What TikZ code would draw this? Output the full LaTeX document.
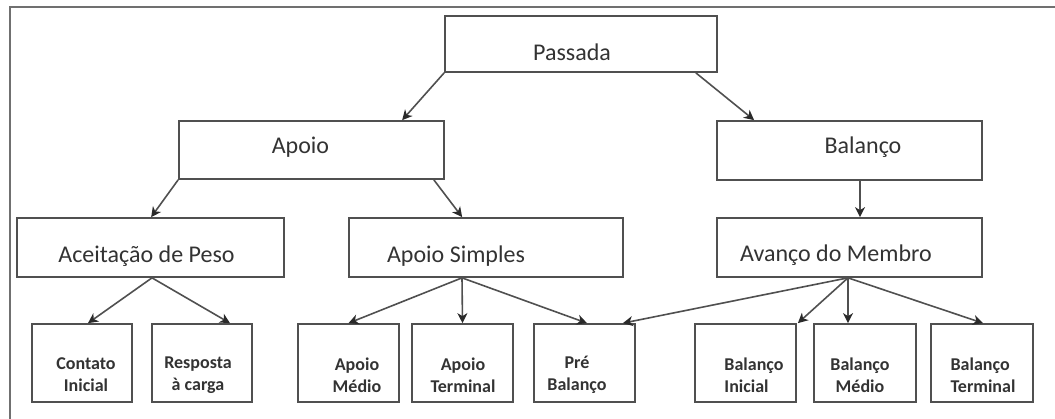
\documentclass[tikz,border=0pt]{standalone}
\usepackage{fontspec}
\setmainfont{Carlito}
\usetikzlibrary{arrows.meta}
\definecolor{boxline}{HTML}{505050}
\definecolor{txt}{HTML}{333333}
\definecolor{tipcol}{HTML}{2A2A2A}
\definecolor{frameline}{HTML}{707070}
\tikzset{
  box/.style={draw=boxline, line width=1.7pt, rectangle, inner sep=0pt},
  bigtext/.style={text=txt, font=\fontsize{24}{29}\selectfont, inner sep=0pt, anchor=base},
  smalltext/.style={text=txt, font=\fontsize{18}{22}\selectfont\bfseries, inner sep=0pt, align=center, anchor=center},
  conn/.style={draw=boxline, line width=1.6pt, -{Stealth[length=10pt,width=10pt,inset=3pt,color=tipcol]}}
}
\begin{document}
\begin{tikzpicture}[x=1pt,y=-1pt]
\useasboundingbox (0,0) rectangle (1055,419);
\draw[frameline, line width=1.5pt] (10,419) -- (10,7) -- (1055,7);
% level 1
\node[box, minimum width=272pt, minimum height=56pt] (passada) at (581,44) {};
\node[bigtext] (passada-t) at (572,61) {Passada};
% level 2
\node[box, minimum width=265pt, minimum height=58pt] (apoio) at (311.5,150) {};
\node[bigtext] (apoio-t) at (300.5,154) {Apoio};
\node[box, minimum width=265pt, minimum height=59pt] (balanco) at (849.5,150.5) {};
\node[bigtext] (balanco-t) at (863,154) {Balanço};
% level 3
\node[box, minimum width=267pt, minimum height=59pt] (aceit) at (150.5,247.5) {};
\node[bigtext] (aceit-t) at (146.5,263) {Aceitação de Peso};
\node[box, minimum width=274pt, minimum height=59pt] (simples) at (486,247.5) {};
\node[bigtext] (simples-t) at (456,263) {Apoio Simples};
\node[box, minimum width=265pt, minimum height=59pt] (avanco) at (849.5,247.5) {};
\node[bigtext] (avanco-t) at (836,262) {Avanço do Membro};
% level 4
\node[box, minimum width=100pt, minimum height=78pt] (contato) at (82,363) {};
\node[smalltext] (contato-t) at (86,375) {Contato\\Inicial};
\node[box, minimum width=100pt, minimum height=78pt] (resposta) at (202,363) {};
\node[smalltext] (resposta-t) at (198,375) {Resposta\\à carga};
\node[box, minimum width=101pt, minimum height=78pt] (medio) at (348.5,363) {};
\node[smalltext] (medio-t) at (357,375) {Apoio\\Médio};
\node[box, minimum width=101pt, minimum height=78pt] (terminal) at (462.5,363) {};
\node[smalltext] (terminal-t) at (463,375) {Apoio\\Terminal};
\node[box, minimum width=101pt, minimum height=78pt] (pre) at (584.5,363) {};
\node[smalltext] (pre-t) at (577,375) {Pré\\Balanço};
\node[box, minimum width=101pt, minimum height=78pt] (binicial) at (745.5,363) {};
\node[smalltext, align=left] (binicial-t) at (754,375) {Balanço\\Inicial};
\node[box, minimum width=102pt, minimum height=78pt] (bmedio) at (865,363) {};
\node[smalltext] (bmedio-t) at (860,375) {Balanço\\Médio};
\node[box, minimum width=102pt, minimum height=78pt] (bterminal) at (982,363) {};
\node[smalltext, align=left] (bterminal-t) at (983,375) {Balanço\\Terminal};
% connectors
\draw[conn] (passada.south west) -- ([xshift=224pt]apoio.north west);
\draw[conn] ([xshift=-22pt]passada.south east) -- ([xshift=38pt]balanco.north west);
\draw[conn] ([xshift=10.5pt]balanco.south) -- ([xshift=10.5pt]avanco.north);
\draw[conn] (apoio.south west) -- ([xshift=135pt]aceit.north west);
\draw[conn] ([xshift=-11pt]apoio.south east) -- ([xshift=114pt]simples.north west);
\draw[conn] ([xshift=1.5pt]aceit.south) -- ([xshift=6pt]contato.north);
\draw[conn] ([xshift=1.5pt]aceit.south) -- ([xshift=28pt]resposta.north);
\draw[conn] ([xshift=-24pt]simples.south) -- (medio.north);
\draw[conn] ([xshift=-24pt]simples.south) -- (terminal.north);
\draw[conn] ([xshift=-24pt]simples.south) -- ([xshift=2.5pt]pre.north);
\draw[conn] ([xshift=-1.5pt]avanco.south) -- ([xshift=-13pt]pre.north east);
\draw[conn] ([xshift=-1.5pt]avanco.south) -- ([xshift=1pt]binicial.north east);
\draw[conn] ([xshift=-1.5pt]avanco.south) -- ([xshift=-17pt]bmedio.north);
\draw[conn] ([xshift=-1.5pt]avanco.south) -- ([xshift=1pt]bterminal.north);
\end{tikzpicture}
\end{document}
